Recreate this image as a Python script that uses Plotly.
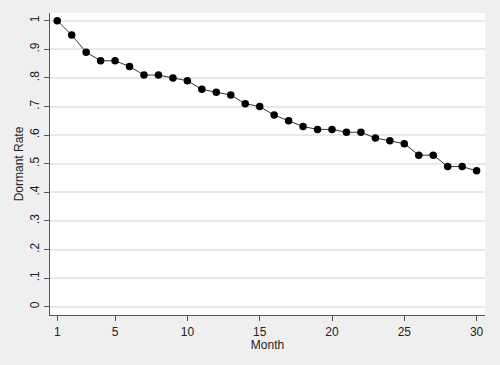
import plotly.graph_objects as go

months = list(range(1, 31))
dormant_rate = [1.00, 0.95, 0.89, 0.86, 0.86, 0.84, 0.81, 0.81, 0.80, 0.79,
                0.76, 0.75, 0.74, 0.71, 0.70, 0.67, 0.65, 0.63, 0.62, 0.62,
                0.61, 0.61, 0.59, 0.58, 0.57, 0.53, 0.53, 0.49, 0.49, 0.475]
x_ticks = [1, 5, 10, 15, 20, 25, 30]
y_ticks = [0, 0.1, 0.2, 0.3, 0.4, 0.5, 0.6, 0.7, 0.8, 0.9, 1.0]
y_tick_labels = ["0", ".1", ".2", ".3", ".4", ".5", ".6", ".7", ".8", ".9", "1"]

fig = go.Figure()
fig.add_trace(go.Scatter(
    x=months, y=dormant_rate, mode="lines+markers",
    line=dict(color="#333333", width=1),
    marker=dict(color="black", size=7.5, symbol="circle"),
    showlegend=False,
))

font = dict(family="Liberation Sans, Arial, sans-serif", size=12, color="#222222")
fig.update_layout(
    width=500, height=365,
    margin=dict(l=50, r=15, t=13, b=50, autoexpand=False),
    paper_bgcolor="#efefef",
    plot_bgcolor="white",
    font=font,
    xaxis=dict(
        range=[0.5, 30.58], tickvals=x_ticks, ticktext=[str(v) for v in x_ticks],
        showgrid=False, zeroline=False, showline=True, linecolor="#555555", linewidth=1.2,
        ticks="outside", ticklen=5, tickcolor="#555555", automargin=False,
        title=dict(text="Month", standoff=0, font=font),
    ),
    yaxis=dict(
        range=[-0.029, 1.027], tickvals=y_ticks, ticktext=y_tick_labels, tickangle=-90,
        showgrid=True, gridcolor="#e8e8e8", gridwidth=1.5,
        zeroline=False, showline=True, linecolor="#555555", linewidth=1.2,
        ticks="outside", ticklen=5, tickcolor="#555555", automargin=False,
        title=dict(text="Dormant Rate", standoff=1, font=font),
    ),
)

fig.write_html("out.html", config={"displayModeBar": False},
               post_script="document.body.style.margin='0';")
